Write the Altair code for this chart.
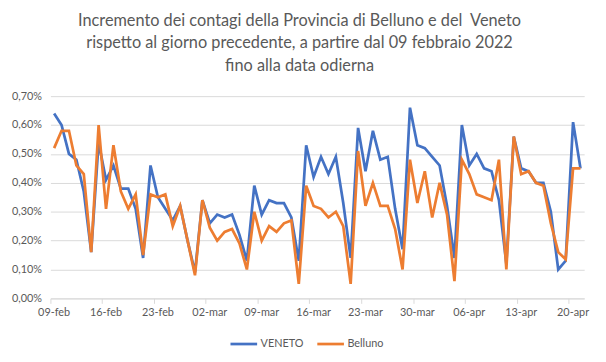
import altair as alt
import pandas as pd

# categories: one per day, 09-feb-2022 .. 21-apr-2022
dates = list(pd.date_range("2022-02-09", "2022-04-21", freq="D"))
mesi = {2: "feb", 3: "mar", 4: "apr"}
giorni = [f"{d.day:02d}-{mesi[d.month]}" for d in dates]
tick_labels = giorni[::7]

veneto = [0.64, 0.60, 0.50, 0.48, 0.37, 0.16, 0.54, 0.41, 0.46, 0.38,
          0.38, 0.31, 0.14, 0.46, 0.35, 0.31, 0.27, 0.32, 0.20, 0.09,
          0.34, 0.26, 0.29, 0.28, 0.29, 0.22, 0.13, 0.39, 0.29, 0.34,
          0.33, 0.33, 0.28, 0.13, 0.53, 0.42, 0.49, 0.43, 0.49, 0.33,
          0.14, 0.59, 0.44, 0.58, 0.48, 0.49, 0.31, 0.17, 0.66, 0.53,
          0.52, 0.49, 0.46, 0.32, 0.14, 0.60, 0.46, 0.50, 0.45, 0.44,
          0.34, 0.12, 0.56, 0.45, 0.44, 0.40, 0.40, 0.30, 0.10, 0.13,
          0.61, 0.45]
belluno = [0.52, 0.58, 0.58, 0.46, 0.43, 0.16, 0.60, 0.31, 0.53, 0.37,
           0.31, 0.36, 0.15, 0.36, 0.35, 0.36, 0.25, 0.32, 0.20, 0.08,
           0.34, 0.245, 0.20, 0.23, 0.24, 0.19, 0.10, 0.30, 0.20, 0.25,
           0.23, 0.26, 0.27, 0.05, 0.39, 0.32, 0.31, 0.28, 0.30, 0.25,
           0.05, 0.51, 0.32, 0.40, 0.32, 0.32, 0.24, 0.10, 0.48, 0.33,
           0.44, 0.28, 0.40, 0.29, 0.06, 0.48, 0.43, 0.36, 0.35, 0.34,
           0.48, 0.10, 0.56, 0.43, 0.44, 0.40, 0.39, 0.26, 0.16, 0.135,
           0.45, 0.45]
serie_nomi = ["VENETO", "Belluno"]
colori = ["#4472C4", "#ED7D31"]
y_ticks = [0.0, 0.1, 0.2, 0.3, 0.4, 0.5, 0.6, 0.7]

df = pd.DataFrame({
    "giorno": giorni + giorni,
    "valore": veneto + belluno,
    "serie": [serie_nomi[0]] * len(giorni) + [serie_nomi[1]] * len(giorni),
})

grey = "#595959"
font = "Lato"

base = alt.Chart(df).mark_line(strokeWidth=2.75).encode(
    x=alt.X("giorno:O",
            scale=alt.Scale(type="band", domain=giorni, paddingInner=0, paddingOuter=0),
            axis=alt.Axis(title=None, values=tick_labels, bandPosition=0, labelAngle=0,
                          domainColor="#d9d9d9", tickColor="#d9d9d9", tickSize=5,
                          labelColor=grey, labelFont=font, labelFontSize=11,
                          labelPadding=3, grid=False)),
    y=alt.Y("valore:Q",
            scale=alt.Scale(domain=[0, 0.7], nice=False),
            axis=alt.Axis(title=None, values=y_ticks, domain=False, ticks=False,
                          labelExpr="replace(format(datum.value, '.2f'), '.', ',') + '%'",
                          gridColor="#d9d9d9", labelColor=grey, labelFont=font,
                          labelFontSize=11, labelPadding=9)),
    color=alt.Color("serie:N",
                    scale=alt.Scale(domain=serie_nomi, range=colori),
                    legend=alt.Legend(title=None, orient="none", direction="horizontal",
                                      legendX=181, legendY=236,
                                      symbolType="stroke", symbolSize=729,
                                      symbolStrokeWidth=2.75, labelOffset=2,
                                      columnPadding=8, labelColor=grey,
                                      labelFont=font, labelFontSize=11)),
)

blue = base.transform_filter(alt.datum.serie == "VENETO")
orange = base.transform_filter(alt.datum.serie == "Belluno")

chart = alt.layer(blue, orange).properties(
    width=541,
    height=205,
    autosize=alt.AutoSizeParams(type="none"),
    padding={"left": 43, "top": 87, "right": 14, "bottom": 52},
    title=alt.TitleParams(
        text=["Incremento dei contagi della Provincia di Belluno e del \u00a0Veneto",
              "rispetto al giorno precedente, a partire dal 09 febbraio 2022",
              "fino alla data odierna"],
        font=font, fontSize=16.5, fontWeight="normal", color=grey,
        lineHeight=23, anchor="middle", dx=-18, offset=16),
).configure_view(stroke=None)

chart.save("out.html", embed_options={"renderer": "svg", "actions": False})
